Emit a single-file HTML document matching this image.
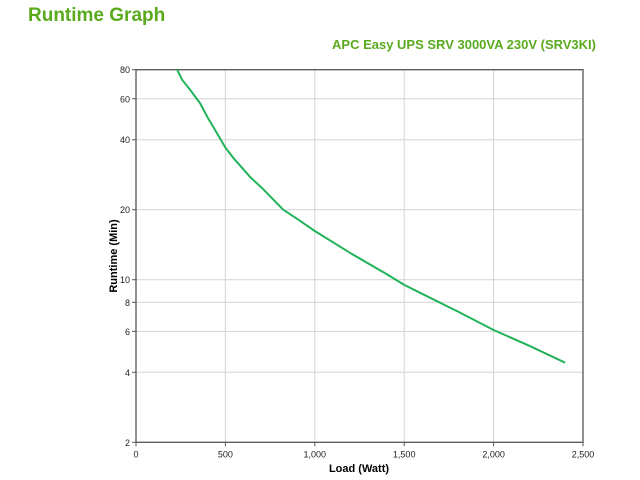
<!DOCTYPE html>
<html><head><meta charset="utf-8"><style>
body{margin:0;background:#fff;width:640px;height:480px;overflow:hidden;font-family:"Liberation Sans",Arial,sans-serif}
</style></head><body>
<svg width="640" height="480" style="position:absolute;left:0;top:0">
<text x="28" y="21" font-size="19" font-weight="bold" fill="#5aaa1e">Runtime Graph</text>
<text x="596" y="49" text-anchor="end" font-size="13" font-weight="bold" fill="#5aaa1e">APC Easy UPS SRV 3000VA 230V (SRV3KI)</text>
<g id="grid"></g>
<g id="axes"></g>
<g id="series"></g>
<text x="359" y="472" text-anchor="middle" font-size="11" font-weight="bold" fill="#000">Load (Watt)</text>
<text transform="translate(117,256) rotate(-90)" text-anchor="middle" font-size="11" font-weight="bold" fill="#000">Runtime (Min)</text>
</svg>
<script>
const xTicks=[0,500,1000,1500,2000,2500];
const xTickLabels=["0","500","1,000","1,500","2,000","2,500"];
const yTicks=[2,4,6,8,10,20,40,60,80];
const loads=[230,260,300,358,400,450,500,550,643,700,823,900,1000,1200,1400,1500,1600,1800,2000,2200,2400];
const runtimes=[80,72,66,57.5,50,43,37,33,27.4,25,20,18.3,16.2,13,10.6,9.5,8.7,7.3,6.08,5.2,4.4];
const X0=136,X1=583,Y0=442.3,Y1=69.7,XMAX=2500,YMIN=2,YMAX=80;
function xs(v){return X0+v/XMAX*(X1-X0);}
function ys(v){return Y0-(Math.log(v)-Math.log(YMIN))/(Math.log(YMAX)-Math.log(YMIN))*(Y0-Y1);}
const NS="http://www.w3.org/2000/svg";
function mk(t,a,p){const e=document.createElementNS(NS,t);for(const k in a)e.setAttribute(k,a[k]);p.appendChild(e);return e;}
const grid=document.getElementById('grid'),axes=document.getElementById('axes'),series=document.getElementById('series');
xTicks.forEach((v,i)=>{
 const x=xs(v);
 if(i>0&&i<xTicks.length-1){const g=mk('line',{x1:x,x2:x,y1:Y1,y2:Y0,stroke:'#d4d4d4','stroke-width':1},grid);
 
 }
 const tk=mk('line',{x1:x,x2:x,y1:Y0,y2:Y0+4,stroke:'#555'},axes);
 
 
 const t=mk('text',{x:x,y:Y0+15,'text-anchor':'middle','font-size':9,fill:'#222'},axes);
 t.textContent=xTickLabels[i];
 
 
});
yTicks.forEach((v,i)=>{
 const y=ys(v);
 if(i>0&&i<yTicks.length-1){const g=mk('line',{x1:X0,x2:X1,y1:y,y2:y,stroke:'#d4d4d4','stroke-width':1},grid);
 
 }
 const tk=mk('line',{x1:X0-4,x2:X0,y1:y,y2:y,stroke:'#555'},axes);
 
 
 const t=mk('text',{x:X0-6,y:y+3.5,'text-anchor':'end','font-size':9,fill:'#222'},axes);
 t.textContent=String(v);
 
 
});
const fr=mk('rect',{x:X0,y:Y1,width:X1-X0,height:Y0-Y1,fill:'none',stroke:'#555','stroke-width':1.3},axes);


const pts=loads.map((l,i)=>xs(l).toFixed(1)+','+ys(runtimes[i]).toFixed(1)).join(' ');
const pl=mk('polyline',{points:pts,fill:'none',stroke:'#22b35a','stroke-width':2,'stroke-linejoin':'round'},series);


</script>
</body></html>
